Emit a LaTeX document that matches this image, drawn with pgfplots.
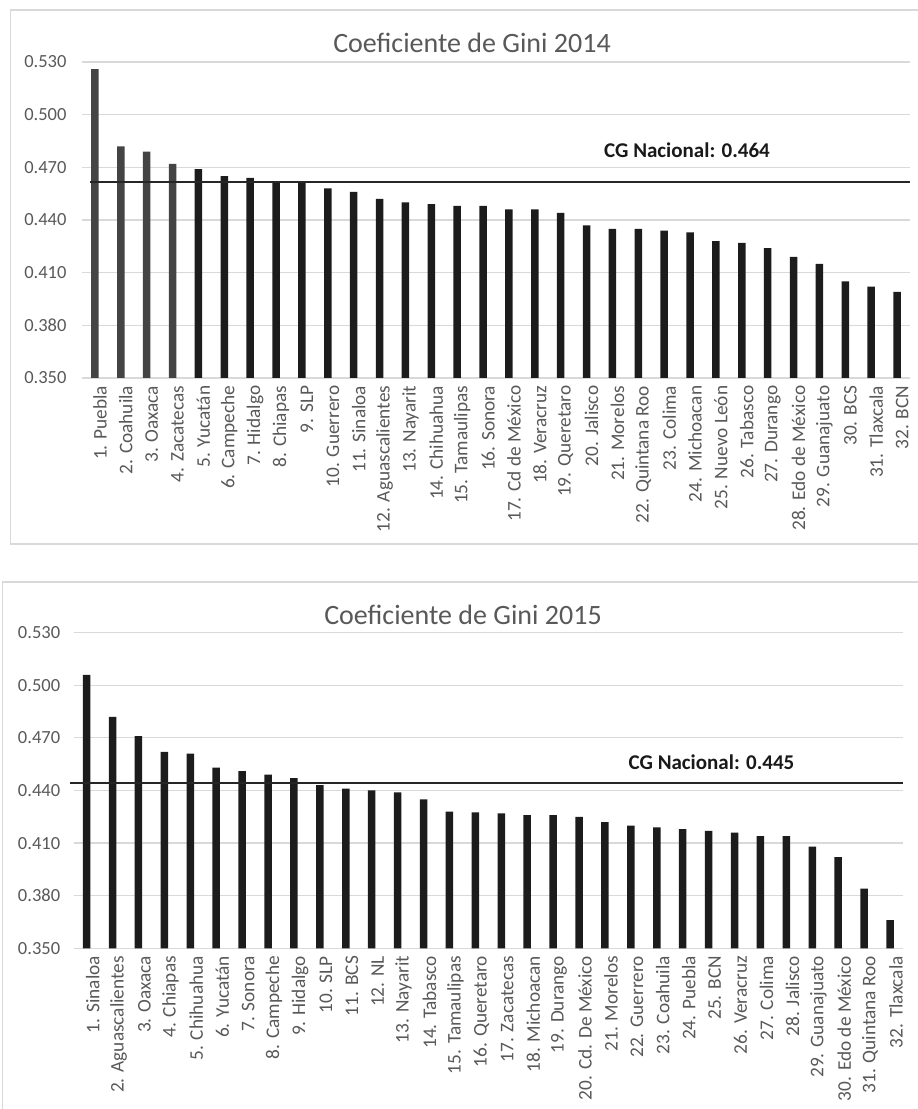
\documentclass[border=0pt]{standalone}
\usepackage{fontspec}
\setmainfont{Carlito}
\usepackage{pgfplots}
\pgfplotsset{compat=1.18}
\definecolor{txt}{HTML}{595959}
\definecolor{gridc}{HTML}{D9D9D9}
\definecolor{barA}{HTML}{1C1C1C}
\definecolor{barB}{HTML}{444444}
\pgfplotsset{ginistyle/.style={
  scale only axis, anchor=south west, clip=false,
  xmin=0.5, xmax=32.5, ymin=0.350, ymax=0.530,
  ytick={0.35,0.38,0.41,0.44,0.47,0.50,0.53},
  xtick={1,...,32},
  ymajorgrids, major grid style={draw=gridc, line width=1.2pt},
  axis line style={draw=none}, tick style={draw=none},
  y tick label style={font=\fontsize{18.5}{21}\selectfont, text=txt,
    /pgf/number format/fixed, /pgf/number format/fixed zerofill,
    /pgf/number format/precision=3, /pgf/number format/assume math mode=true},
  x tick label style={rotate=90, anchor=east, font=\fontsize{19.3}{22}\selectfont, text=txt},
  ybar, bar width=7.5pt, bar shift=0pt,
}}
\begin{document}
\begin{tikzpicture}[x=1pt,y=1pt]
\useasboundingbox (0,0) rectangle (918,1109);
\fill[white] (0,0) rectangle (918,1109);
\draw[gridc, line width=1.2pt] (10.5,1099) rectangle (930,565);
\draw[gridc, line width=1.2pt] (2.5,527) rectangle (930,-10);
% ---- 2014 ----
\begin{axis}[ginistyle, at={(82pt,731pt)}, width=828pt, height=316pt,
  y tick label style={xshift=-12pt}, x tick label style={yshift=-5pt},
  xticklabels={{1. Puebla},{2. Coahuila},{3. Oaxaca},{4. Zacatecas},{5. Yucatán},{6. Campeche},{7. Hidalgo},{8. Chiapas},{9. SLP},{10. Guerrero},{11. Sinaloa},{12. Aguascalientes},{13. Nayarit},{14. Chihuahua},{15. Tamaulipas},{16. Sonora},{17. Cd de México},{18. Veracruz},{19. Queretaro},{20. Jalisco},{21. Morelos},{22. Quintana Roo},{23. Colima},{24. Michoacan},{25. Nuevo León},{26. Tabasco},{27. Durango},{28. Edo de México},{29. Guanajuato},{30. BCS},{31. Tlaxcala},{32. BCN}}]
\addplot[fill=barB, draw=none] coordinates {(1,0.526) (2,0.482) (3,0.479) (4,0.472)};
\addplot[fill=barA, draw=none] coordinates {(5,0.469) (6,0.465) (7,0.464) (8,0.462) (9,0.461) (10,0.458) (11,0.456) (12,0.452) (13,0.450) (14,0.449) (15,0.448) (16,0.448) (17,0.446) (18,0.446) (19,0.444) (20,0.437) (21,0.435) (22,0.435) (23,0.434) (24,0.433) (25,0.428) (26,0.427) (27,0.424) (28,0.419) (29,0.415) (30,0.405) (31,0.402) (32,0.399)};
\addplot[sharp plot, draw=black!85, line width=2.7pt] coordinates {(0.8,0.4616) (32.5,0.4616)};
\end{axis}
\node[font=\fontsize{28}{32}\selectfont, text=txt] at (472,1066) {Coeficiente de Gini 2014};
\node[font=\fontsize{21}{24}\selectfont\bfseries, text=black!90] at (687,959) {CG Nacional: 0.464};
% ---- 2015 ----
\begin{axis}[ginistyle, at={(73.7pt,160.7pt)}, width=829.3pt, height=315.6pt,
  y tick label style={xshift=-10pt}, x tick label style={yshift=-6pt},
  xticklabels={{1. Sinaloa},{2. Aguascalientes},{3. Oaxaca},{4. Chiapas},{5. Chihuahua},{6. Yucatán},{7. Sonora},{8. Campeche},{9. Hidalgo},{10. SLP},{11. BCS},{12. NL},{13. Nayarit},{14. Tabasco},{15. Tamaulipas},{16. Queretaro},{17. Zacatecas},{18. Michoacan},{19. Durango},{20. Cd. De México},{21. Morelos},{22. Guerrero},{23. Coahuila},{24. Puebla},{25. BCN},{26. Veracruz},{27. Colima},{28. Jalisco},{29. Guanajuato},{30. Edo de México},{31. Quintana Roo},{32. Tlaxcala}}]
\addplot[fill=barA, draw=none] coordinates {(1,0.506) (2,0.482) (3,0.471) (4,0.462) (5,0.461) (6,0.453) (7,0.451) (8,0.449) (9,0.447) (10,0.443) (11,0.441) (12,0.440) (13,0.439) (14,0.435) (15,0.428) (16,0.4275) (17,0.427) (18,0.426) (19,0.426) (20,0.425) (21,0.422) (22,0.420) (23,0.419) (24,0.418) (25,0.417) (26,0.416) (27,0.414) (28,0.414) (29,0.408) (30,0.402) (31,0.384) (32,0.366)};
\addplot[sharp plot, draw=black!85, line width=2.7pt] coordinates {(0.35,0.4443) (32.5,0.4443)};
\end{axis}
\node[font=\fontsize{28}{32}\selectfont, text=txt] at (463,494) {Coeficiente de Gini 2015};
\node[font=\fontsize{21}{24}\selectfont\bfseries, text=black!90] at (711.5,347) {CG Nacional: 0.445};
\end{tikzpicture}
\end{document}
